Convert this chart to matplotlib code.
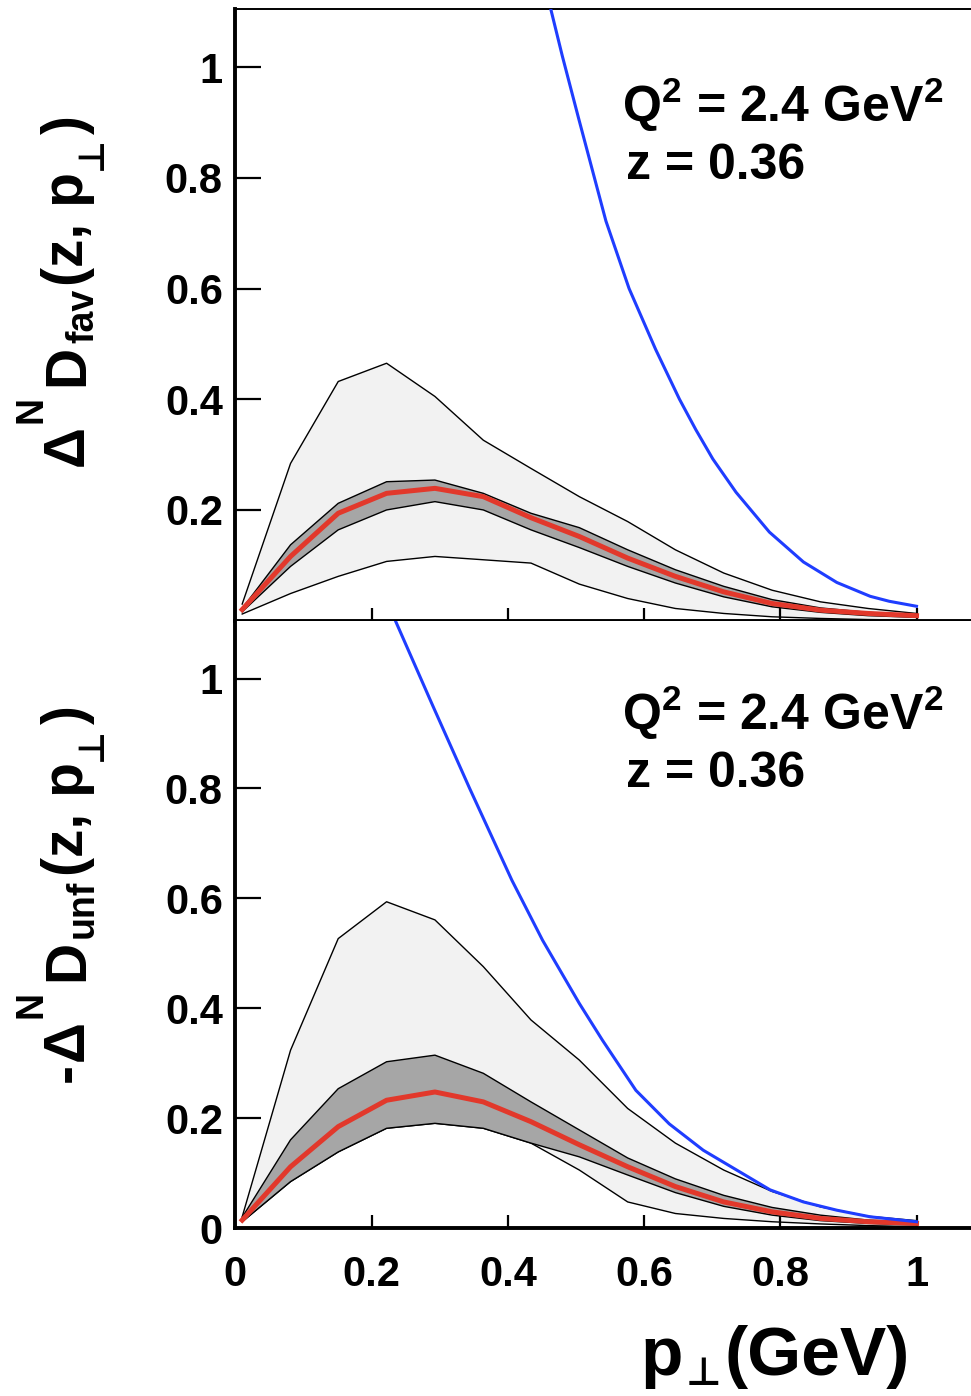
import matplotlib
matplotlib.use('Agg')
import matplotlib.pyplot as plt

FAM = ['Liberation Sans', 'DejaVu Sans']
plt.rcParams['font.family'] = FAM
plt.rcParams['font.weight'] = 'bold'
plt.rcParams['mathtext.fontset'] = 'custom'
plt.rcParams['mathtext.rm'] = 'Liberation Sans:bold'
plt.rcParams['mathtext.it'] = 'Liberation Sans:bold'
plt.rcParams['mathtext.bf'] = 'Liberation Sans:bold'

# p_perp grid of the bands (GeV)
pt = [0.01, 0.081, 0.151, 0.222, 0.293, 0.364, 0.434, 0.505,
      0.576, 0.646, 0.717, 0.788, 0.859, 0.929, 1.0]

# favoured (top panel)
fav_outer_hi = [0.030, 0.284, 0.432, 0.465, 0.405, 0.326, 0.275, 0.224,
                0.179, 0.128, 0.086, 0.055, 0.034, 0.022, 0.013]
fav_inner_hi = [0.022, 0.137, 0.212, 0.251, 0.254, 0.230, 0.194, 0.168,
                0.128, 0.092, 0.062, 0.038, 0.023, 0.015, 0.010]
fav_best = [0.020, 0.116, 0.194, 0.230, 0.239, 0.224, 0.186, 0.152,
            0.113, 0.080, 0.052, 0.031, 0.019, 0.013, 0.009]
fav_inner_lo = [0.016, 0.098, 0.164, 0.200, 0.215, 0.200, 0.164, 0.132,
                0.098, 0.068, 0.043, 0.025, 0.015, 0.009, 0.006]
fav_outer_lo = [0.012, 0.049, 0.080, 0.107, 0.116, 0.110, 0.104, 0.066,
                0.040, 0.022, 0.013, 0.007, 0.004, 0.002, 0.001]
fav_bound_x = [0.463, 0.48, 0.504, 0.544, 0.578, 0.617, 0.652, 0.676,
               0.701, 0.735, 0.784, 0.834, 0.883, 0.932, 0.96, 1.0]
fav_bound_y = [1.105, 1.02, 0.907, 0.722, 0.600, 0.490, 0.400, 0.345,
               0.292, 0.232, 0.160, 0.106, 0.069, 0.044, 0.035, 0.026]

# unfavoured (bottom panel)
unf_outer_hi = [0.021, 0.324, 0.527, 0.594, 0.561, 0.476, 0.379, 0.306,
                0.218, 0.155, 0.106, 0.067, 0.039, 0.022, 0.014]
unf_inner_hi = [0.020, 0.161, 0.254, 0.303, 0.315, 0.282, 0.230, 0.179,
                0.128, 0.090, 0.060, 0.038, 0.024, 0.015, 0.011]
unf_best = [0.015, 0.112, 0.185, 0.233, 0.248, 0.230, 0.194, 0.152,
            0.112, 0.076, 0.048, 0.030, 0.018, 0.012, 0.009]
unf_inner_lo = [0.012, 0.085, 0.139, 0.182, 0.191, 0.182, 0.155, 0.130,
                0.097, 0.065, 0.040, 0.024, 0.014, 0.009, 0.006]
unf_outer_lo = [0.012, 0.085, 0.139, 0.182, 0.191, 0.182, 0.155, 0.106,
                0.048, 0.027, 0.018, 0.012, 0.008, 0.005, 0.003]
unf_bound_x = [0.235, 0.29, 0.344, 0.406, 0.451, 0.505, 0.539, 0.588,
               0.637, 0.687, 0.736, 0.785, 0.834, 0.883, 0.932, 1.0]
unf_bound_y = [1.105, 0.95, 0.80, 0.633, 0.524, 0.409, 0.342, 0.251,
               0.190, 0.142, 0.106, 0.070, 0.048, 0.033, 0.021, 0.012]

xticks = [0, 0.2, 0.4, 0.6, 0.8, 1.0]
xtick_labels = ['0', '0.2', '0.4', '0.6', '0.8', '1']

W, H = 971, 1396
fig = plt.figure(figsize=(W / 100, H / 100), dpi=100)
ax1 = fig.add_axes([0.2424, 0.5554, 0.7576, 0.4382])
ax2 = fig.add_axes([0.2424, 0.1201, 0.7576, 0.4352])


def draw(ax, olo, ohi, ilo, ihi, best, bx, by):
    ax.fill_between(pt, olo, ohi, facecolor='#f2f2f2', edgecolor='none', zorder=1)
    ax.plot(pt, ohi, color='k', lw=1.0, zorder=2)
    ax.plot(pt, olo, color='k', lw=1.0, zorder=2)
    ax.fill_between(pt, ilo, ihi, facecolor='#a6a6a6', edgecolor='none', zorder=3)
    ax.plot(pt, ihi, color='k', lw=1.0, zorder=3)
    ax.plot(pt, ilo, color='k', lw=1.0, zorder=3)
    ax.plot(pt, best, color='#e2382b', lw=3.6, zorder=4, solid_joinstyle='round')
    ax.plot(bx, by, color='#1f3dff', lw=2.2, zorder=5, solid_joinstyle='round')
    ax.set_xlim(0, 1.08)
    ax.set_ylim(0, 1.105)
    ax.spines['right'].set_visible(False)
    ax.spines['left'].set_linewidth(2.8)
    ax.spines['bottom'].set_linewidth(2.8)
    ax.spines['top'].set_linewidth(1.4)
    ax.tick_params(axis='y', direction='in', length=19, width=1.6,
                   labelsize=30, pad=9)
    ax.tick_params(axis='x', direction='in', length=9.5, width=1.6,
                   labelsize=30, pad=19)
    ax.set_xticks(xticks)


draw(ax1, fav_outer_lo, fav_outer_hi, fav_inner_lo, fav_inner_hi, fav_best,
     fav_bound_x, fav_bound_y)
draw(ax2, unf_outer_lo, unf_outer_hi, unf_inner_lo, unf_inner_hi, unf_best,
     unf_bound_x, unf_bound_y)

ax1.set_yticks([0.2, 0.4, 0.6, 0.8, 1.0], ['0.2', '0.4', '0.6', '0.8', '1'])
ax1.set_xticklabels([])
ax2.set_yticks([0, 0.2, 0.4, 0.6, 0.8, 1.0], ['0', '0.2', '0.4', '0.6', '0.8', '1'])
ax2.set_xticklabels(xtick_labels)
ax2.spines['top'].set_visible(False)

# annotations
for off in (0, 607.6):
    fig.text(622 / W, 1 - (122 + off) / H, r'Q$^{2}$ = 2.4 GeV$^{2}$',
             fontsize=36, va='baseline')
    fig.text(626 / W, 1 - (179 + off) / H, 'z = 0.36', fontsize=36, va='baseline')

renderer = fig.canvas.get_renderer()


def seq_text(x_px, y_px, pieces, rotation=0):
    # pieces: (text, size, shift down in px, gap before in px)
    pos = 0.0
    for s, size, shift, gap in pieces:
        pos += gap
        if rotation == 90:
            x, y = x_px + shift, y_px - pos
        else:
            x, y = x_px + pos, y_px + shift
        t = fig.text(x / W, 1 - y / H, s, fontsize=size, family=FAM,
                     ha='left', va='baseline', rotation=rotation,
                     rotation_mode='anchor')
        bb = t.get_window_extent(renderer)
        pos += bb.height if rotation == 90 else bb.width


seq_text(83, 466, [('Δ', 41, 0, 0), ('N', 27, -42, 2), ('D', 41, 0, 10),
                   ('fav', 27, 10, 2), ('(z, p', 41, 0, 3), ('⊥', 26, 19, 2),
                   (')', 41, 0, 3)], rotation=90)
seq_text(83, 1082, [('-', 41, 0, 0), ('Δ', 41, 0, 2), ('N', 27, -42, 2),
                    ('D', 41, 0, 10), ('unf', 27, 10, 2), ('(z, p', 41, 0, 3),
                    ('⊥', 26, 19, 2), (')', 41, 0, 3)], rotation=90)
seq_text(640, 1375, [('p', 50, 0, 0), ('⊥', 28, 10, 3), ('(GeV)', 50, 0, 4)])

fig.savefig('out.png', dpi=100)
